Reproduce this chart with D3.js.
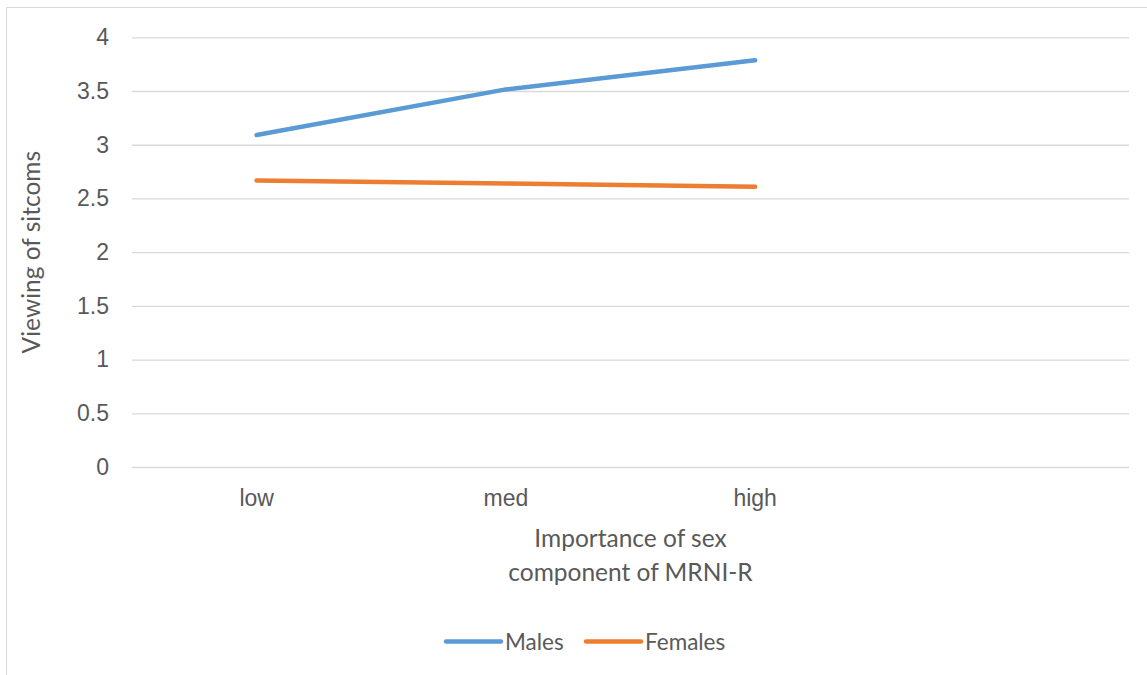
<!DOCTYPE html>
<html>
<head>
<meta charset="utf-8">
<script src="https://cdn.jsdelivr.net/npm/d3@7"></script>
<style>
  html, body { margin: 0; padding: 0; background: #fff; }
  svg { display: block; font-family: Lato, "Open Sans", sans-serif; }
</style>
</head>
<body>
<svg id="chart" width="1147" height="675"></svg>
<script>
const categories = ["low", "med", "high", ""];
const seriesNames = ["Males", "Females"];
const males = [3.09, 3.515, 3.786, null];
const females = [2.667, 2.64, 2.608, null];
const yTicks = [0, 0.5, 1, 1.5, 2, 2.5, 3, 3.5, 4];
const colors = ["#5B9BD5", "#ED7D31"];
const yTitle = "Viewing of sitcoms";
const xTitle = ["Importance of sex", "component of MRNI-R"];

const svg = d3.select("#chart");
const W = 1147, H = 675;
const m = { left: 132, right: 1129, top: 37.3, bottom: 467 };

// outer chart border
svg.append("rect").attr("x", 6.5).attr("y", 7.5).attr("width", W + 10).attr("height", H + 10)
  .attr("fill", "#fff").attr("stroke", "#D9D9D9").attr("stroke-width", 1);

const x = d3.scaleBand().domain(categories).range([m.left, m.right]);
const y = d3.scaleLinear().domain([0, 4]).range([m.bottom, m.top]);

// gridlines
const yAxis = d3.axisLeft(y).tickValues(yTicks).tickSize(-(m.right - m.left)).tickPadding(23)
  .tickFormat(d3.format("~g"));
const gy = svg.append("g").attr("transform", `translate(${m.left},0)`).call(yAxis);
gy.select(".domain").remove();
gy.selectAll(".tick line").attr("stroke", "#D9D9D9").attr("stroke-width", 1.3);
gy.selectAll(".tick text").attr("fill", "#595959").attr("font-size", 23);

// x axis labels
const xAxis = d3.axisBottom(x).tickSize(0).tickPadding(23);
const gx = svg.append("g").attr("transform", `translate(0,${m.bottom})`).call(xAxis);
gx.select(".domain").remove();
gx.selectAll(".tick text").attr("fill", "#595959").attr("font-size", 23);

// lines
const line = d3.line()
  .defined(d => d.v != null)
  .x(d => x(d.c) + x.bandwidth() / 2)
  .y(d => y(d.v));
[males, females].forEach((vals, i) => {
  const data = categories.map((c, j) => ({ c, v: vals[j] }));
  svg.append("path").datum(data).attr("d", line)
    .attr("fill", "none").attr("stroke", colors[i]).attr("stroke-width", 4.5)
    .attr("stroke-linecap", "round").attr("stroke-linejoin", "round");
});

// axis titles
svg.append("text").attr("transform", `translate(40,${(m.top + m.bottom) / 2}) rotate(-90)`)
  .attr("text-anchor", "middle").attr("fill", "#595959").attr("font-size", 24.5)
  .text(yTitle);
const cx = (m.left + m.right) / 2;
xTitle.forEach((t, i) => {
  svg.append("text").attr("x", cx).attr("y", 547 + i * 33.5)
    .attr("text-anchor", "middle").attr("fill", "#595959").attr("font-size", 24.5)
    .text(t);
});

// legend
const legendX = [446, 586];
seriesNames.forEach((name, i) => {
  const g = svg.append("g");
  g.append("line").attr("x1", legendX[i]).attr("x2", legendX[i] + 55)
    .attr("y1", 641.5).attr("y2", 641.5)
    .attr("stroke", colors[i]).attr("stroke-width", 4.5).attr("stroke-linecap", "round");
  g.append("text").attr("x", legendX[i] + 59).attr("y", 649.5)
    .attr("fill", "#595959").attr("font-size", 22.5).text(name);
});
</script>
</body>
</html>
